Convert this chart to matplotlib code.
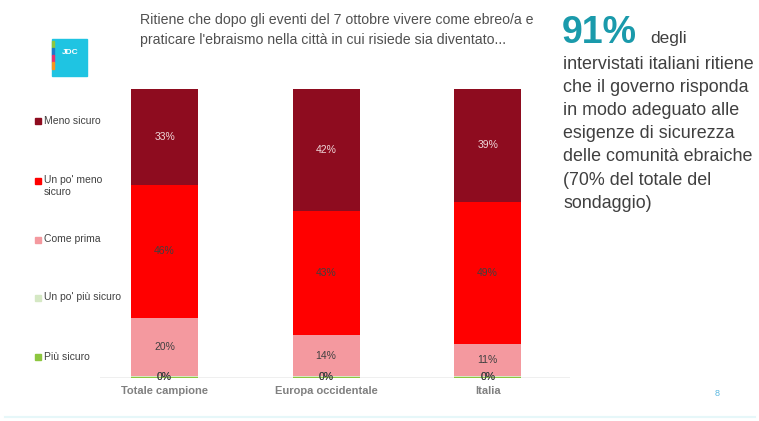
import matplotlib.pyplot as plt
from matplotlib.patches import Rectangle

plt.rcParams['font.family'] = ['Liberation Sans', 'DejaVu Sans']

categories = ['Totale campione', 'Europa occidentale', 'Italia']
# stacked bottom -> top
series = ['Più sicuro', "Un po' più sicuro", 'Come prima', "Un po' meno\nsicuro", 'Meno sicuro']
values = {
    'Più sicuro': [0.3, 0.3, 0.3],
    "Un po' più sicuro": [0.4, 0.4, 0.4],
    'Come prima': [20, 14, 11],
    "Un po' meno\nsicuro": [46, 43, 49],
    'Meno sicuro': [33, 42, 39],
}
colors = {
    'Più sicuro': '#8dc63f',
    "Un po' più sicuro": '#d5e8c4',
    'Come prima': '#f4999f',
    "Un po' meno\nsicuro": '#ff0000',
    'Meno sicuro': '#8e0c1f',
}

W, H = 759, 421
fig = plt.figure(figsize=(W / 100, H / 100), dpi=100)
fig.patch.set_facecolor('white')

ax = fig.add_axes([100 / W, (H - 378) / H, 470 / W, 290 / H])
ax.set_xlim(-0.40, 2.51)
ax.set_ylim(0, 100)
for s in ax.spines.values():
    s.set_visible(False)
ax.set_yticks([])
ax.set_xticks([])
ax.axhline(0, color='#ececec', lw=1.2, zorder=0)

x = range(len(categories))
bottom = [0, 0, 0]
for name in series:
    vals = values[name]
    ax.bar(x, vals, 0.415, bottom=bottom, color=colors[name], edgecolor='none', zorder=2)
    for i, v in enumerate(vals):
        tc = '#f0d8da' if name == 'Meno sicuro' else '#404040'
        yy = bottom[i] + v / 2
        if v < 2:
            yy = 0.3
        ax.text(i, yy, '%d%%' % round(v), ha='center', va='center', fontsize=7.5,
                color=tc, zorder=3)
    bottom = [b + v for b, v in zip(bottom, vals)]

for i, c in enumerate(categories):
    ax.text(i, -4.5, c, ha='center', va='center', fontsize=8, fontweight='bold',
            color='#808080')

# legend drawn down the left side, top item first
leg_y = [121, 181, 240, 298, 357]
for name, yp in zip(series[::-1], leg_y):
    fig.patches.append(Rectangle((35 / W, (H - yp - 3) / H), 6 / W, 6 / H,
                                 transform=fig.transFigure, color=colors[name]))
    fig.text(44 / W, (H - yp + 5.5) / H, name, ha='left', va='top', fontsize=7.5,
             color='#404040', linespacing=1.15)

# title
fig.text(140 / W, (H - 13) / H,
         "Ritiene che dopo gli eventi del 7 ottobre vivere come ebreo/a e\n"
         "praticare l'ebraismo nella città in cui risiede sia diventato...",
         ha='left', va='top', fontsize=10.2, color='#505050', linespacing=1.55)

# logo
fig.patches.append(Rectangle((52 / W, (H - 76) / H), 35 / W, 37 / H,
                             transform=fig.transFigure, color='#1fc4e2'))
stripe = ['#8dc63f', '#1f78c8', '#e8306e', '#f7941d']
for k, sc in enumerate(stripe):
    fig.patches.append(Rectangle((52 / W, (H - 48 - k * 7) / H), 2 / W, 7 / H,
                                 transform=fig.transFigure, color=sc))
fig.text(70 / W, (H - 52) / H, 'JDC', ha='center', va='center', fontsize=6,
         color='white', fontweight='bold')

# right side text
fig.text(562 / W, (H - 33) / H, '91%', ha='left', va='center', fontsize=27,
         fontweight='bold', color='#1a9aab')
fig.text(650 / W, (H - 39) / H, 'degli', ha='left', va='center', fontsize=12.5,
         color='#404040')
fig.text(563 / W, (H - 56) / H,
         "intervistati italiani ritiene\nche il governo risponda\nin modo adeguato alle\n"
         "esigenze di sicurezza\ndelle comunità ebraiche\n(70% del totale del\nsondaggio)",
         ha='left', va='top', fontsize=12.9, color='#404040', linespacing=1.47)

fig.text(717 / W, (H - 394) / H, '8', ha='center', va='center', fontsize=6.5,
         color='#5bb8e0')
fig.add_artist(plt.Line2D([5 / W, 755 / W], [(H - 417) / H] * 2, color='#e6f7f9', lw=1.5))

fig.savefig('out.png', dpi=100)
